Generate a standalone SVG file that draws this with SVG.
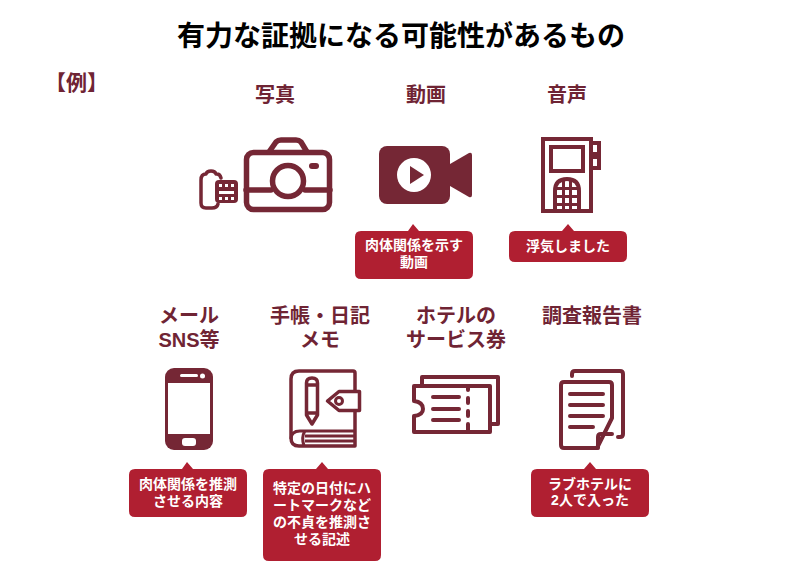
<svg xmlns="http://www.w3.org/2000/svg" width="800" height="574" viewBox="0 0 800 574">
<style>
text{font-family:"Liberation Sans","Noto Sans CJK JP",sans-serif;font-weight:700;text-anchor:middle}
.h{font-size:20px;fill:#6f2434}
.c{font-size:14px;fill:#fff}
.b{fill:#b01f31}
.l{fill:none;stroke:#752735;stroke-width:5.500;stroke-linejoin:round;stroke-linecap:round}
.t{fill:none;stroke:#752735;stroke-width:4;stroke-linecap:round;stroke-linejoin:round}
.s{fill:none;stroke:#752735;stroke-width:4;stroke-linejoin:miter}
.f{fill:#752735}
</style>
<rect width="800" height="574" fill="#fff"/>
<text id="title" x="401" y="46" fill="#000" style="font-size:28px">有力な証拠になる可能性があるもの</text>
<text id="example" x="76.500" y="90" class="h" style="font-size:21px">【例】</text>

<g id="photo">
<text class="h" x="275" y="102">写真</text>
<rect class="l" x="246.500" y="152.500" width="83" height="57" rx="7"/>
<path class="l" d="M269 152L276 142Q278 140 281 140H296Q299 140 301 142L307 152"/>
<path class="l" d="M246 190H271M305 190H330"/>
<circle class="l" cx="288" cy="181" r="15.500"/>
<rect class="f" x="309" y="163" width="10" height="6" rx="3"/>
<path class="t" style="stroke-width:3.500" d="M221 178Q220 174 217 174H216Q215 171 211 171Q207 171 206 174Q201 174 201 180V203Q201 208 206 208H212Q217 208 218 204"/>
<rect class="f" x="215" y="180" width="23" height="23" rx="4"/>
<path fill="#fff" d="M219 184H222V187H219ZM225 184H228V187H225ZM231 184H234V187H231ZM219 191H234V194H219ZM219 197H222V200H219ZM225 197H228V200H225ZM231 197H234V200H231Z"/>
</g>

<g id="video">
<text class="h" x="426" y="102">動画</text>
<rect class="f" x="379" y="146" width="71" height="58" rx="8"/>
<path class="f" d="M450 164L469 153Q472 152 472 155V195Q472 198 469 197L450 186Z"/>
<circle cx="414" cy="175" r="17" fill="#fff"/>
<path class="f" d="M410 166L424 175L410 184Z"/>
<path class="b" d="M413 224L419 231H467Q473 231 473 237V273Q473 279 467 279H361Q355 279 355 273V237Q355 231 361 231H408Z"/>
<text class="c"><tspan x="414" y="250">肉体関係を示す</tspan><tspan x="414" y="267">動画</tspan></text>
</g>

<g id="audio">
<text class="h" x="567" y="102">音声</text>
<rect class="s" x="543" y="139" width="48" height="72"/>
<rect class="s" x="551" y="147" width="32" height="24"/>
<path class="s" d="M591 143H599V154H591M591 157H599V168H591"/>
<path class="s" d="M555 211V191Q555 179 567 179Q579 179 579 191V211"/>
<path class="f" d="M562 180H565V211H562ZM569 180H572V211H569ZM557 187H577V190H557ZM557 195H577V198H557ZM557 203H577V206H557Z"/>
<path class="b" d="M568 224L574 231H621Q627 231 627 237V256Q627 262 621 262H515Q509 262 509 256V237Q509 231 515 231H562Z"/>
<text class="c" x="568" y="251">浮気しました</text>
</g>

<g id="phone">
<text class="h" x="189" y="323">メール</text>
<text class="h" x="189" y="347">SNS等</text>
<rect class="f" x="165" y="368" width="48" height="82" rx="9"/>
<rect x="168" y="383" width="42" height="51" fill="#fff"/>
<rect x="180" y="374" width="18" height="3" rx="1.500" fill="#fff"/>
<circle cx="202.500" cy="376" r="2.500" fill="#fff"/>
<rect x="182" y="438" width="14" height="8" rx="3" fill="#fff"/>
<path class="b" d="M187 462L193 469H241Q247 469 247 475V511Q247 517 241 517H135Q129 517 129 511V475Q129 469 135 469H182Z"/>
<text class="c"><tspan x="188" y="489">肉体関係を推測</tspan><tspan x="188" y="506">させる内容</tspan></text>
</g>

<g id="notebook">
<text class="h" x="320" y="323">手帳・日記</text>
<text class="h" x="320" y="347">メモ</text>
<g style="stroke-width:3.500">
<path class="t" style="stroke-width:3.500" d="M355 390V373Q355 371 353 371H299Q291 371 291 379V438Q291 446 299 446H355V412"/>
<path class="t" style="stroke-width:3;stroke-linecap:butt" d="M291 439Q291 431 300 431H355M305 431Q301 437 304 446M305 436H355M305 441H355"/>
<path class="t" style="stroke-width:3.500" d="M339 391.500H359.500V410.500H339L327.500 401Z"/>
<circle cx="339" cy="401" r="3.500" fill="none" stroke="#752735" stroke-width="3"/>
<path class="t" style="stroke-width:3.500" d="M306.500 383Q306.500 378 312 378Q317.500 378 317.500 383V415L312 424L306.500 415ZM306.500 385H317.500M306.500 413H317.500"/>
</g>
<path class="b" d="M322 462L328 469H375Q381 469 381 475V555Q381 561 375 561H269Q263 561 263 555V475Q263 469 269 469H316Z"/>
<text class="c"><tspan x="322" y="493">特定の日付にハ</tspan><tspan x="322" y="510">ートマークなど</tspan><tspan x="322" y="527">の不貞を推測さ</tspan><tspan x="322" y="544">せる記述</tspan></text>
</g>

<g id="ticket">
<text class="h" x="456" y="323">ホテルの</text>
<text class="h" x="456" y="347">サービス券</text>
<path class="t" d="M422 385V377H498V424H490"/>
<path class="t" d="M414 386H490V432H414V416Q423 415 423 409Q423 402 414 401Z"/>
<path class="t" d="M468 386V390M468 398V403M468 411V416M468 424V432"/>
<path class="t" d="M433 397H459M433 409H459M433 420H459"/>
</g>

<g id="document">
<text class="h" x="592" y="323">調査報告書</text>
<path class="t" d="M572 376V374Q572 371 575 371H620Q623 371 623 374V434Q623 437 620 437H618"/>
<path class="t" d="M612 418V385Q612 382 609 382H564Q561 382 561 385V445Q561 448 564 448H597Z"/>
<path class="t" d="M598 448V437Q598 434 601 434H612"/>
<path class="t" d="M570 394H603M570 405H603M570 416H603M570 427H593"/>
<path class="b" d="M590 462L596 469H643Q649 469 649 475V511Q649 517 643 517H537Q531 517 531 511V475Q531 469 537 469H584Z"/>
<text class="c"><tspan x="590" y="489">ラブホテルに</tspan><tspan x="590" y="505">2人で入った</tspan></text>
</g>
</svg>
